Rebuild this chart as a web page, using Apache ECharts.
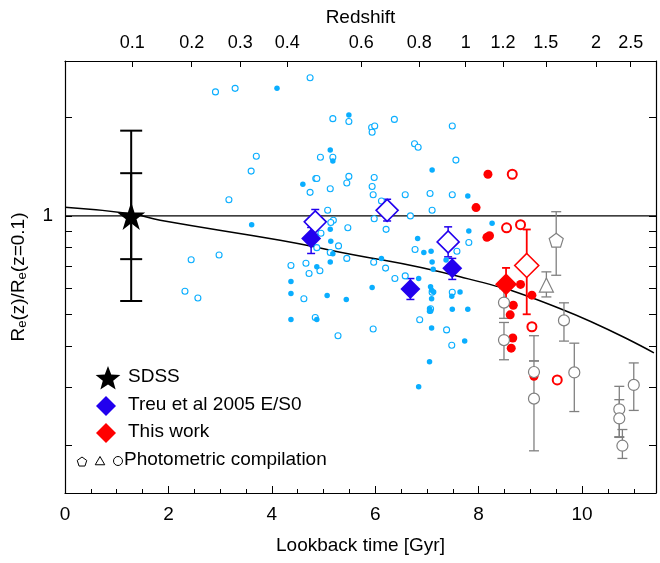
<!DOCTYPE html>
<html><head><meta charset="utf-8">
<script src="https://cdn.jsdelivr.net/npm/echarts@6/dist/echarts.min.js"></script>
<style>html,body{margin:0;padding:0;background:#fff}#c{width:660px;height:563px}</style>
</head><body><div id="c"></div>
<script>
// data: [lookback time Gyr, Re(z)/Re(z=0.1)]
const cyanOpen = [[2.91,2.39],[3.29,2.45],[4.74,2.64],[3.70,1.52],[3.60,1.37],[3.17,1.12],[4.94,1.51],[4.85,1.30],[4.87,1.30],[4.74,1.18],
  [2.98,0.76],[2.44,0.735],[2.32,0.589],[2.57,0.562],[4.37,0.706],[4.66,0.717],[4.72,0.667],[4.62,0.559],[4.93,0.68],[4.84,0.49],
  [5.18,1.98],[5.49,1.94],[5.93,1.86],[5.99,1.88],[5.94,1.80],[6.37,1.97],[7.49,1.88],[6.76,1.66],[6.83,1.62],[5.18,1.51],
  [7.56,1.48],[5.49,1.32],[5.45,1.26],[5.98,1.31],[5.94,1.23],[5.13,1.21],[5.96,1.16],[6.58,1.16],[7.06,1.17],[7.49,1.16],
  [6.12,1.11],[6.27,1.05],[7.10,1.04],[5.08,1.04],[6.68,1.00],[5.98,0.98],[5.19,0.97],[5.14,0.955],[6.21,0.91],[5.47,0.92],
  [4.95,0.885],[7.35,0.84],[7.81,0.83],[5.29,0.81],[4.87,0.80],[6.77,0.79],[5.13,0.773],[7.58,0.78],[5.45,0.742],[5.97,0.722],
  [6.20,0.693],[6.38,0.644],[6.58,0.656],[7.49,0.585],[7.10,0.585],[6.86,0.482],[7.07,0.521],[5.96,0.452],[5.28,0.431],[7.38,0.449],[7.48,0.403]];
const cyanFilled = [[4.10,2.45],[4.60,1.25],[3.61,0.94],[4.37,0.631],[4.37,0.58],[4.37,0.483],[4.87,0.70],[5.07,0.572],[4.87,0.483],
  [5.49,2.03],[5.13,1.59],[5.18,1.47],[7.10,1.38],[7.79,1.15],[5.13,0.91],[5.14,0.837],[5.13,0.724],[5.18,0.766],[6.12,0.742],
  [6.82,0.853],[6.94,0.773],[7.08,0.78],[7.10,0.724],[7.12,0.688],[7.37,0.733],[7.81,0.90],[5.44,0.556],[5.94,0.605],[6.84,0.644],
  [7.07,0.608],[7.09,0.593],[7.13,0.586],[7.64,0.586],[7.48,0.569],[7.09,0.559],[7.05,0.521],[7.05,0.512],[7.07,0.512],[7.49,0.519],
  [7.79,0.519],[7.09,0.455],[7.73,0.415],[7.05,0.359],[6.84,0.301],[8.26,0.95]];
const redFilled = [[8.18,1.34],[7.95,1.06],[8.16,0.86],[8.21,0.87],[8.81,0.618],[9.03,0.573],[8.67,0.534],[8.61,0.499],[8.66,0.424],[8.63,0.395],[9.07,0.324]];
const redOpen = [[8.65,1.34],[8.54,0.92],[8.81,0.94],[9.03,0.459],[9.52,0.316]];
// [x, y, lo, hi]
const redMeanFilled = [[8.53,0.619,0.54,0.694]];
const redMeanOpen = [[8.93,0.706,0.501,0.909]];
const treuFilled = [[4.76,0.853,0.768,0.922],[6.68,0.598,0.556,0.644],[7.49,0.692,0.64,0.742]];
const treuOpen = [[4.84,0.959,0.88,1.046],[6.23,1.04,0.965,1.124],[7.41,0.833,0.75,0.926]];
const photCircle = [[8.49,0.544,0.487,0.60],[8.49,0.418,0.364,0.473],[9.65,0.48,0.415,0.543],[9.07,0.334,0.361,0.431],[9.07,0.277,0.192,0.361],
  [9.85,0.333,0.253,0.409],[10.72,0.257,0.211,0.302],[10.72,0.241,0.212,0.275],[10.78,0.199,0.182,0.223],[11.0,0.305,0.255,0.356]];
const photPentagon = [[9.50,0.843,0.659,1.03]];
const photTriangle = [[9.31,0.615,0.566,0.675]];
const sdss = [[1.28,1.0]];
const sdssOuter = [[1.28,1.0,0.55,1.82]];
const sdssInner = [[1.28,1.0,0.738,1.35]];
const model = [[0,1.063],[1.28,1.015],[1.84,0.97],[4.16,0.843],[5.13,0.786],[7.64,0.652],[9.57,0.522],[11.39,0.382]];
const yTicks = [0.2,0.3,0.4,0.5,0.6,0.7,0.8,0.9,1,2];
const xMajor = [0,2,4,6,8,10];
const xMinor = [0.5,1,1.5,2.5,3,3.5,4.5,5,5.5,6.5,7,7.5,8.5,9,9.5,10.5,11];
const zLabels = ['0.1','0.2','0.3','0.4','0.6','0.8','1','1.2','1.5','2','2.5'];
const zLookback = [1.3,2.45,3.39,4.3,5.73,6.85,7.75,8.47,9.30,10.27,10.94];

const XMAX = 11.43, YMIN = -0.8454, YMAX = 0.4726;
const L = Math.log10;
const pt = a => a.map(d => [d[0], L(d[1])]);
const err = a => a.map(d => [d[0], L(d[2]), L(d[3])]);
const C = { cyan: '#0aaeff', blue: '#2200ee', red: '#ff0000', gray: '#808080' };
const FONT = 'Liberation Sans';
const STAR = 'path://M0,-1L0.2245,-0.309L0.951,-0.309L0.363,0.118L0.588,0.809L0,0.382L-0.588,0.809L-0.363,0.118L-0.951,-0.309L-0.2245,-0.309Z';
const PENT = 'path://M0,-1L0.951,-0.309L0.588,0.809L-0.588,0.809L-0.951,-0.309Z';

function errSeries(data, color, cap, width) {
  return {
    type: 'custom', data: err(data), z: 3, silent: true,
    renderItem: (p, api) => {
      const lo = api.coord([api.value(0), api.value(1)]);
      const hi = api.coord([api.value(0), api.value(2)]);
      const st = { stroke: color, lineWidth: width || 1.5 };
      return { type: 'group', children: [
        { type: 'line', shape: { x1: lo[0], y1: lo[1], x2: hi[0], y2: hi[1] }, style: st },
        { type: 'line', shape: { x1: lo[0] - cap, y1: lo[1], x2: lo[0] + cap, y2: lo[1] }, style: st },
        { type: 'line', shape: { x1: hi[0] - cap, y1: hi[1], x2: hi[0] + cap, y2: hi[1] }, style: st }
      ]};
    }
  };
}
function sc(data, symbol, size, color, open, bw, z) {
  return {
    type: 'scatter', data: pt(data), symbol, symbolSize: size, z: z || 4, silent: true,
    itemStyle: open ? { color: '#fff', borderColor: color, borderWidth: bw || 1.2, opacity: 1 } : { color, borderWidth: 0, opacity: 1 }
  };
}
function poly(cx, cy, r, n, inner, rot) {
  const pts = [];
  const k = inner ? 2 * n : n;
  for (let i = 0; i < k; i++) {
    const a = rot + i * 2 * Math.PI / k;
    const rr = inner && i % 2 ? r * inner : r;
    pts.push([cx + rr * Math.sin(a), cy - rr * Math.cos(a)]);
  }
  return pts;
}
const axTick = { inside: true, length: 7, lineStyle: { color: '#000' } };
const axLine = { show: true, onZero: false, lineStyle: { color: '#000', width: 1.2 } };
const legFont = '19px "Liberation Sans"';

const chart = echarts.init(document.getElementById('c'));
chart.setOption({
  animation: false,
  grid: { left: 65, right: 4, top: 61, bottom: 70, outerBoundsMode: 'none', containLabel: false },
  xAxis: [
    { type: 'value', min: 0, max: XMAX, axisLine: axLine, axisTick: { ...axTick, customValues: xMajor },
      splitLine: { show: false },
      axisLabel: { customValues: xMajor, color: '#000', fontFamily: FONT, fontSize: 19, margin: 12 },
      name: 'Lookback time [Gyr]', nameLocation: 'middle', nameGap: 43,
      nameTextStyle: { color: '#000', fontFamily: FONT, fontSize: 19 } },
    { type: 'value', position: 'top', min: 0, max: XMAX, axisLine: axLine,
      axisTick: { ...axTick, length: 6, customValues: zLookback },
      splitLine: { show: false },
      axisLabel: { customValues: zLookback, color: '#000', fontFamily: FONT, fontSize: 18, margin: 9,
        formatter: v => zLabels[zLookback.indexOf(v)] },
      name: 'Redshift', nameLocation: 'middle', nameGap: 34,
      nameTextStyle: { color: '#000', fontFamily: FONT, fontSize: 19 } },
    { type: 'value', position: 'bottom', min: 0, max: XMAX, axisLine: { show: false, onZero: false },
      axisTick: { inside: true, length: 4, lineStyle: { color: '#000' }, customValues: xMinor },
      axisLabel: { show: false }, splitLine: { show: false } }
  ],
  yAxis: [
    { type: 'value', min: YMIN, max: YMAX, axisLine: axLine,
      axisTick: { ...axTick, customValues: yTicks.map(L) }, splitLine: { show: false },
      axisLabel: { customValues: [0], formatter: () => '1', color: '#000', fontFamily: FONT, fontSize: 19, margin: 12 },
      name: '{n|R}{s|e}{n|(z)/R}{s|e}{n|(z=0.1)}', nameLocation: 'middle', nameGap: 36,
      nameTextStyle: { rich: { n: { fontFamily: FONT, fontSize: 19, color: '#000' },
        s: { fontFamily: FONT, fontSize: 13, color: '#000', verticalAlign: 'bottom', padding: [8, 0, 0, 0] } } } },
    { type: 'value', position: 'right', min: YMIN, max: YMAX, axisLine: axLine,
      axisTick: { ...axTick, customValues: yTicks.map(L) }, splitLine: { show: false }, axisLabel: { show: false } }
  ],
  series: [
    { type: 'line', data: [[0, 0], [XMAX, 0]], symbol: 'none', lineStyle: { color: '#000', width: 1.2 }, z: 2, silent: true },
    { type: 'line', data: pt(model), smooth: true, symbol: 'none', lineStyle: { color: '#000', width: 1.5 }, z: 2, silent: true },
    sc(cyanOpen, 'circle', 6, C.cyan, true, 1.1),
    sc(cyanFilled, 'circle', 5.5, C.cyan, false),
    sc(redFilled, 'circle', 9, C.red, false),
    sc(redOpen, 'circle', 9, C.red, true, 2),
    errSeries(photCircle, C.gray, 5, 1.3),
    errSeries(photPentagon, C.gray, 5, 1.3),
    errSeries(photTriangle, C.gray, 5, 1.3),
    sc(photCircle, 'circle', 11, C.gray, true, 1.2),
    sc(photPentagon, PENT, 14, C.gray, true, 1.2),
    sc(photTriangle, 'triangle', 14, C.gray, true, 1.2),
    errSeries(treuFilled, C.blue, 4, 1.5),
    errSeries(treuOpen, C.blue, 4, 1.5),
    sc(treuFilled, 'diamond', 20, C.blue, false, 0, 5),
    sc(treuOpen, 'diamond', 22, C.blue, true, 1.6, 5),
    errSeries(redMeanFilled, C.red, 4, 1.8),
    errSeries(redMeanOpen, C.red, 4, 1.8),
    sc(redMeanFilled, 'diamond', 22, C.red, false, 0, 5),
    sc(redMeanOpen, 'diamond', 24, C.red, true, 1.6, 5),
    errSeries(sdssOuter, '#000', 11, 2),
    errSeries(sdssInner, '#000', 11, 2),
    { type: 'scatter', data: pt(sdss), symbol: STAR, symbolSize: 28, itemStyle: { color: '#000', opacity: 1 }, z: 6, silent: true }
  ],
  graphic: [
    { type: 'polygon', shape: { points: poly(108, 379, 13, 5, 0.42, 0) }, style: { fill: '#000' } },
    { type: 'text', x: 128, y: 367, style: { text: 'SDSS', font: legFont, fill: '#000' } },
    { type: 'polygon', shape: { points: poly(106, 406, 10, 4, 0, 0) }, style: { fill: C.blue } },
    { type: 'text', x: 128, y: 395, style: { text: 'Treu et al 2005 E/S0', font: legFont, fill: '#000' } },
    { type: 'polygon', shape: { points: poly(106, 433, 10, 4, 0, 0) }, style: { fill: C.red } },
    { type: 'text', x: 128, y: 422, style: { text: 'This work', font: legFont, fill: '#000' } },
    { type: 'polygon', shape: { points: poly(82, 462, 5, 5, 0, 0) }, style: { fill: '#fff', stroke: '#000', lineWidth: 1 } },
    { type: 'polygon', shape: { points: poly(100, 462, 5.5, 3, 0, 0) }, style: { fill: '#fff', stroke: '#000', lineWidth: 1 } },
    { type: 'circle', shape: { cx: 118, cy: 461, r: 4.5 }, style: { fill: '#fff', stroke: '#000', lineWidth: 1 } },
    { type: 'text', x: 124, y: 450, style: { text: 'Photometric compilation', font: legFont, fill: '#000' } }
  ]
});
</script></body></html>
